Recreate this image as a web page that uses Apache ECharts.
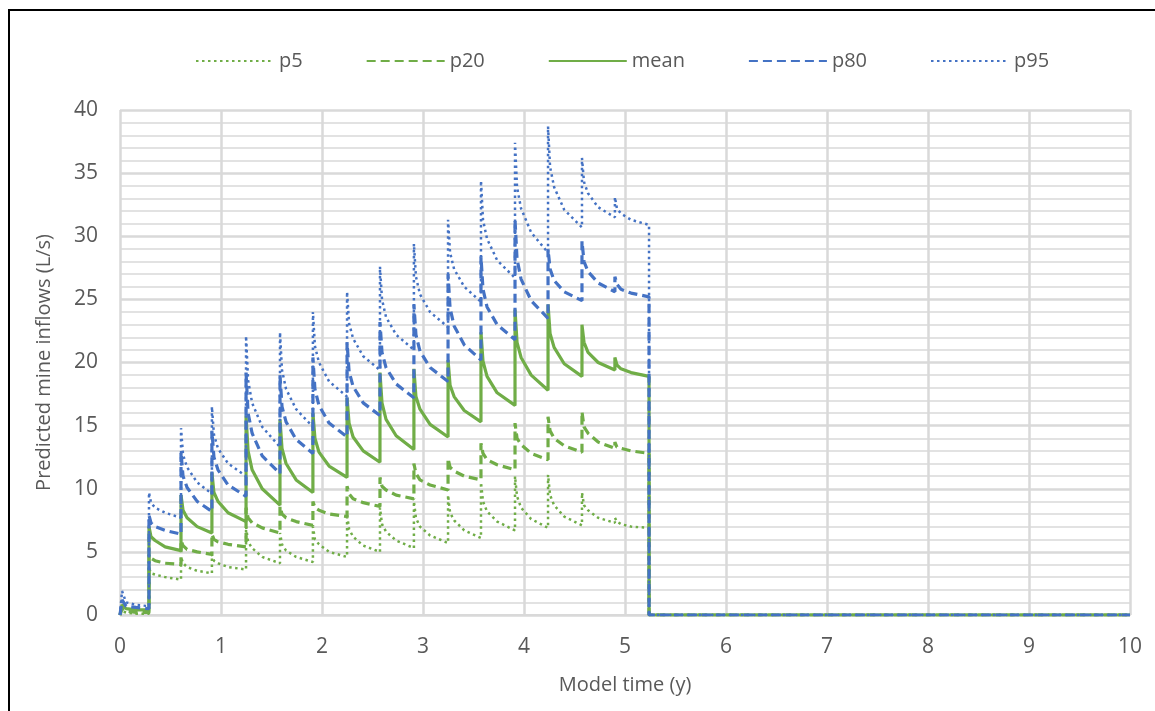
<!DOCTYPE html>
<html>
<head>
<meta charset="utf-8">
<script src="https://cdn.jsdelivr.net/npm/echarts@6/dist/echarts.min.js"></script>
<style>
html,body{margin:0;padding:0;background:#fff;}
#wrap{position:relative;width:1155px;height:711px;overflow:hidden;}
#chart{position:absolute;left:0;top:0;width:1155px;height:711px;}
#frame{position:absolute;left:8px;top:9px;width:1200px;height:800px;border-left:2px solid #000;border-top:2px solid #000;pointer-events:none;}
</style>
</head>
<body>
<div id="wrap"><div id="chart"></div><div id="frame"></div></div>
<script>
// Model time (years) for each plotted point (5 points per pumping segment, then shutdown)
const time = [
  0, 0.02, 0.06, 0.16, 0.287,
  0.287, 0.307, 0.347, 0.447, 0.604,
  0.604, 0.624, 0.664, 0.764, 0.91,
  0.91, 0.93, 0.97, 1.07, 1.248,
  1.248, 1.268, 1.308, 1.408, 1.584,
  1.584, 1.604, 1.644, 1.744, 1.91,
  1.91, 1.93, 1.97, 2.07, 2.248,
  2.248, 2.268, 2.308, 2.408, 2.574,
  2.574, 2.594, 2.634, 2.734, 2.91,
  2.91, 2.93, 2.97, 3.07, 3.248,
  3.248, 3.268, 3.308, 3.408, 3.574,
  3.574, 3.594, 3.634, 3.734, 3.911,
  3.911, 3.931, 3.971, 4.071, 4.238,
  4.238, 4.258, 4.298, 4.398, 4.574,
  4.574, 4.594, 4.634, 4.734, 4.90,
  4.90, 4.92, 4.96, 5.06, 5.238,
  5.238, 10
];
const p5 = [
  0, 0.3, 0.2, 0.1, 0.1,
  3.7, 3.3, 3.2, 3.0, 2.8,
  4.6, 4.1, 3.8, 3.5, 3.3,
  4.8, 4.3, 4.1, 3.8, 3.6,
  7.0, 5.8, 5.3, 4.6, 4.1,
  6.5, 5.6, 5.1, 4.6, 4.2,
  7.0, 6.0, 5.6, 5.0, 4.6,
  8.0, 6.8, 6.2, 5.5, 5.0,
  8.5, 7.2, 6.6, 5.9, 5.3,
  9.0, 7.7, 7.0, 6.3, 5.7,
  9.5, 8.1, 7.5, 6.7, 6.1,
  10.5, 9.0, 8.2, 7.4, 6.7,
  11.0, 9.4, 8.5, 7.6, 6.9,
  11.1, 9.5, 8.7, 7.8, 7.1,
  9.7, 8.7, 8.3, 7.7, 7.3,
  7.7, 7.4, 7.2, 7.0, 6.9,
  0, 0
];
const p20 = [
  0, 0.5, 0.3, 0.2, 0.2,
  4.8, 4.5, 4.3, 4.1, 4.0,
  5.9, 5.5, 5.2, 5.0, 4.8,
  6.4, 6.0, 5.8, 5.6, 5.4,
  8.5, 7.7, 7.3, 6.9, 6.5,
  8.6, 8.0, 7.7, 7.4, 7.1,
  9.0, 8.5, 8.3, 8.0, 7.8,
  10.2, 9.6, 9.2, 8.9, 8.6,
  10.9, 10.2, 9.9, 9.5, 9.2,
  12.0, 11.2, 10.7, 10.3, 9.9,
  12.4, 11.7, 11.4, 11.0, 10.7,
  13.6, 12.8, 12.3, 11.9, 11.5,
  15.2, 14.0, 13.5, 12.8, 12.3,
  15.7, 14.6, 14.0, 13.4, 12.9,
  16.1, 14.9, 14.4, 13.7, 13.2,
  13.7, 13.3, 13.2, 13.0, 12.8,
  0, 0
];
const mean = [
  0, 0.8, 0.5, 0.4, 0.4,
  7.0, 6.2, 5.9, 5.4, 5.1,
  9.5, 8.3, 7.7, 7.0, 6.5,
  11.3, 9.7, 9.0, 8.1, 7.4,
  15.8, 13.0, 11.5, 10.0, 8.7,
  15.5, 13.2, 12.0, 10.7, 9.7,
  16.0, 14.0, 12.9, 11.8, 10.9,
  17.2, 15.2, 14.1, 13.0, 12.1,
  19.2, 16.8, 15.5, 14.2, 13.1,
  19.5, 17.3, 16.3, 15.1, 14.1,
  20.2, 18.2, 17.3, 16.2, 15.3,
  22.4, 20.1, 18.9, 17.6, 16.6,
  24.2, 21.6, 20.4, 19.0, 17.8,
  24.6, 22.3, 21.2, 19.9, 18.9,
  23.0, 21.6, 20.8, 20.0, 19.4,
  20.4, 19.8, 19.5, 19.2, 18.9,
  0, 0
];
const p80 = [
  0, 1.2, 0.7, 0.6, 0.5,
  7.9, 7.3, 7.0, 6.7, 6.4,
  12.9, 11.0, 10.1, 9.0, 8.2,
  14.6, 12.5, 11.5, 10.3, 9.4,
  19.2, 16.0, 14.4, 12.6, 11.2,
  19.0, 16.5, 15.3, 13.9, 12.8,
  20.4, 17.9, 16.6, 15.2, 14.1,
  21.6, 19.3, 18.1, 16.8, 15.8,
  23.2, 20.8, 19.6, 18.3, 17.2,
  24.6, 22.2, 20.9, 19.6, 18.5,
  27.0, 24.3, 22.9, 21.4, 20.2,
  28.4, 25.8, 24.4, 23.0, 21.8,
  31.3, 28.2, 26.6, 24.9, 23.5,
  29.0, 27.4, 26.5, 25.6, 24.9,
  29.6, 28.0, 27.2, 26.3, 25.6,
  26.8, 26.2, 25.8, 25.5, 25.2,
  0, 0
];
const p95 = [
  0, 1.9, 1.0, 0.8, 0.7,
  9.7, 8.9, 8.5, 8.1, 7.7,
  14.8, 12.7, 11.7, 10.5, 9.6,
  16.5, 14.3, 13.2, 12.0, 11.0,
  22.1, 18.6, 16.8, 14.9, 13.3,
  22.4, 19.4, 17.9, 16.3, 14.9,
  24.0, 21.3, 20.0, 18.5, 17.3,
  25.6, 23.1, 21.9, 20.5, 19.4,
  27.6, 25.0, 23.6, 22.2, 21.0,
  29.4, 26.8, 25.4, 24.0, 22.8,
  31.3, 28.7, 27.4, 26.0, 24.8,
  34.4, 31.3, 29.8, 28.1, 26.7,
  37.4, 33.9, 32.2, 30.3, 28.7,
  38.7, 35.5, 33.9, 32.1, 30.7,
  36.2, 34.3, 33.4, 32.3, 31.5,
  33.1, 32.2, 31.8, 31.3, 30.9,
  0, 0
];
const seriesNames = ['p5', 'p20', 'mean', 'p80', 'p95'];
const xTicks = [0, 10, 1];
const yTicks = [0, 40, 5];

const GREEN = '#70AD47', BLUE = '#4472C4';
const FONT = '"Open Sans"';
const TXT = '#595959';
const zip = v => time.map((t, i) => [t, v[i]]);
const styles = {
  p5:   {color: GREEN, width: 2.5, type: [2.5, 3.5]},
  p20:  {color: GREEN, width: 3.2, type: [9, 5]},
  mean: {color: GREEN, width: 3.2, type: 'solid'},
  p80:  {color: BLUE,  width: 3.2, type: [9, 5]},
  p95:  {color: BLUE,  width: 2.5, type: [2.5, 3.5]}
};
const values = {p5, p20, mean, p80, p95};

const chart = echarts.init(document.getElementById('chart'), null, {renderer: 'canvas'});
chart.setOption({
  animation: false,
  backgroundColor: '#fff',
  textStyle: {fontFamily: FONT},
  legend: {
    top: 46,
    left: 190,
    itemWidth: 78,
    itemHeight: 14,
    itemGap: 63,
    itemStyle: {opacity: 0},
    textStyle: {fontFamily: FONT, fontSize: 20, color: TXT},
    data: seriesNames
  },
  grid: {left: 120, right: 25, top: 110, bottom: 96, containLabel: false},
  xAxis: {
    type: 'value',
    min: xTicks[0], max: xTicks[1], interval: xTicks[2],
    name: 'Model time (y)',
    nameLocation: 'middle',
    nameGap: 60,
    nameTextStyle: {fontFamily: FONT, fontSize: 20, color: TXT},
    axisLine: {show: true, lineStyle: {color: '#d9d9d9', width: 2}},
    axisTick: {show: false},
    axisLabel: {fontFamily: FONT, fontSize: 21, color: TXT, margin: 22},
    splitLine: {show: true, lineStyle: {color: '#d9d9d9', width: 2.5}}
  },
  yAxis: {
    type: 'value',
    min: yTicks[0], max: yTicks[1], interval: yTicks[2],
    name: 'Predicted mine inflows (L/s)',
    nameLocation: 'middle',
    nameGap: 66,
    nameTextStyle: {fontFamily: FONT, fontSize: 20, color: TXT},
    axisLine: {show: false},
    axisTick: {show: false},
    axisLabel: {fontFamily: FONT, fontSize: 21, color: TXT, margin: 22},
    splitLine: {show: true, lineStyle: {color: '#d9d9d9', width: 2.5}},
    minorTick: {show: false, splitNumber: 5},
    minorSplitLine: {show: true, lineStyle: {color: '#d9d9d9', width: 1.5}}
  },
  series: seriesNames.map(n => ({
    name: n,
    type: 'line',
    data: zip(values[n]),
    showSymbol: false,
    symbol: 'none',
    smooth: false,
    color: styles[n].color,
    lineStyle: {color: styles[n].color, width: styles[n].width, type: styles[n].type},
    z: 2
  }))
});
</script>
</body>
</html>
